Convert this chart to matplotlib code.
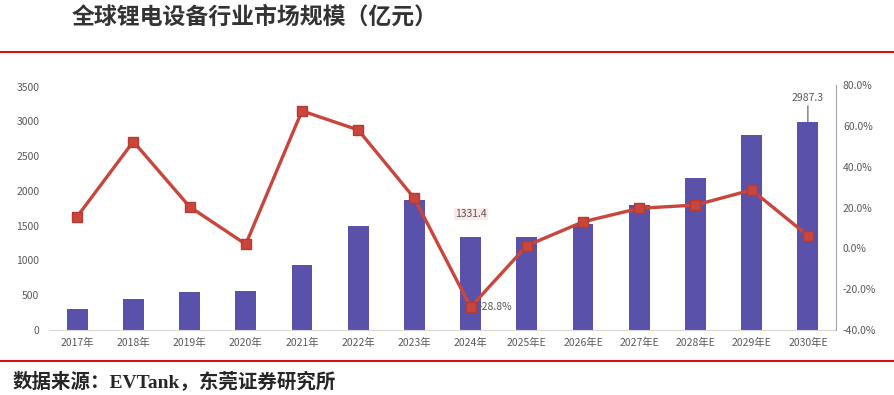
import numpy as np
import matplotlib.pyplot as plt
from matplotlib.lines import Line2D

plt.rcParams['font.family'] = ['Noto Sans CJK SC', 'DejaVu Sans']

years = ['2017年', '2018年', '2019年', '2020年', '2021年', '2022年', '2023年', '2024年',
         '2025年E', '2026年E', '2027年E', '2028年E', '2029年E', '2030年E']
scale = [300, 450, 550, 555, 940, 1500, 1870, 1331.4, 1340, 1530, 1800, 2180, 2810, 2987.3]
growth = [15.5, 52.3, 20.4, 2.0, 67.3, 58.0, 24.5, -28.8, 1.3, 13.0, 19.6, 21.2, 28.6, 6.2]

bar_color = '#5a52aa'
line_color = '#c9463d'
tick_color = '#595959'

fig = plt.figure(figsize=(8.94, 3.95), dpi=100)
ax = fig.add_axes([49 / 894, 1 - 330 / 395, (836 - 49) / 894, (330 - 85) / 395])
ax2 = ax.twinx()

x = np.arange(len(years))
ax.bar(x, scale, width=0.37, color=bar_color, zorder=2)
ax.set_xlim(-0.5, len(years) - 0.5)
ax.set_ylim(0, 3500 * (330 - 85) / (328.3 - 85))
ax.set_yticks(np.arange(0, 3501, 500))
ax.set_xticks(x)
ax.set_xticklabels(years)
ax.tick_params(axis='both', length=0, colors=tick_color, labelsize=7.5)
ax.tick_params(axis='y', pad=7)
ax.tick_params(axis='x', pad=6)
for s in ['top', 'left', 'right']:
    ax.spines[s].set_visible(False)
ax.spines['bottom'].set_color('#d9d9d9')
ax.spines['bottom'].set_position(('data', 0))

ax2.plot(x, growth, color=line_color, lw=2.4, marker='s', ms=6.5,
         markerfacecolor=line_color, markeredgecolor='#b53a33', zorder=3)
ax2.set_ylim(-40, 80)
ax2.set_yticks(np.arange(-40, 81, 20))
ax2.set_yticklabels([f'{v:.1f}%' for v in np.arange(-40, 81, 20)])
ax2.tick_params(axis='y', length=0, colors=tick_color, labelsize=7.5, pad=5)
for s in ['top', 'left', 'bottom']:
    ax2.spines[s].set_visible(False)
ax2.spines['right'].set_color('#a6a6a6')

# data labels
ax.annotate(f'{scale[7]:.1f}', xy=(x[7], scale[7]), xytext=(0, 13), textcoords='offset points',
            ha='center', va='bottom', fontsize=7.5, color=tick_color,
            bbox=dict(boxstyle='square,pad=0.1', fc='#fbe9ea', ec='none'))
ax.annotate(f'{scale[13]:.1f}', xy=(x[13], scale[13]), xytext=(0, 14), textcoords='offset points',
            ha='center', va='bottom', fontsize=7.5, color=tick_color,
            arrowprops=dict(arrowstyle='-', color='#595959', lw=0.8, shrinkA=0, shrinkB=0))
ax2.annotate(f'{growth[7]:.1f}%', xy=(x[7], growth[7]), xytext=(6, 0), textcoords='offset points',
             ha='left', va='center', fontsize=7.5, color=tick_color)

# title, rules and source
fig.text(72 / 894, 1 - 17 / 395, '全球锂电设备行业市场规模（亿元）', fontsize=16.5, fontweight='bold',
         color='#333333', ha='left', va='center')
fig.add_artist(Line2D([0, 1], [1 - 52 / 395] * 2, color='#d0121b', lw=1.5, transform=fig.transFigure))
fig.add_artist(Line2D([0, 1], [1 - 361 / 395] * 2, color='#d0121b', lw=1.5, transform=fig.transFigure))
fig.text(13 / 894, 1 - 382 / 395, '数据来源：EVTank，东莞证券研究所', fontsize=14, fontweight='bold',
         family=['Liberation Serif', 'Noto Sans CJK SC'],
         color='#262626', ha='left', va='center')

fig.savefig('out.png', dpi=100)
